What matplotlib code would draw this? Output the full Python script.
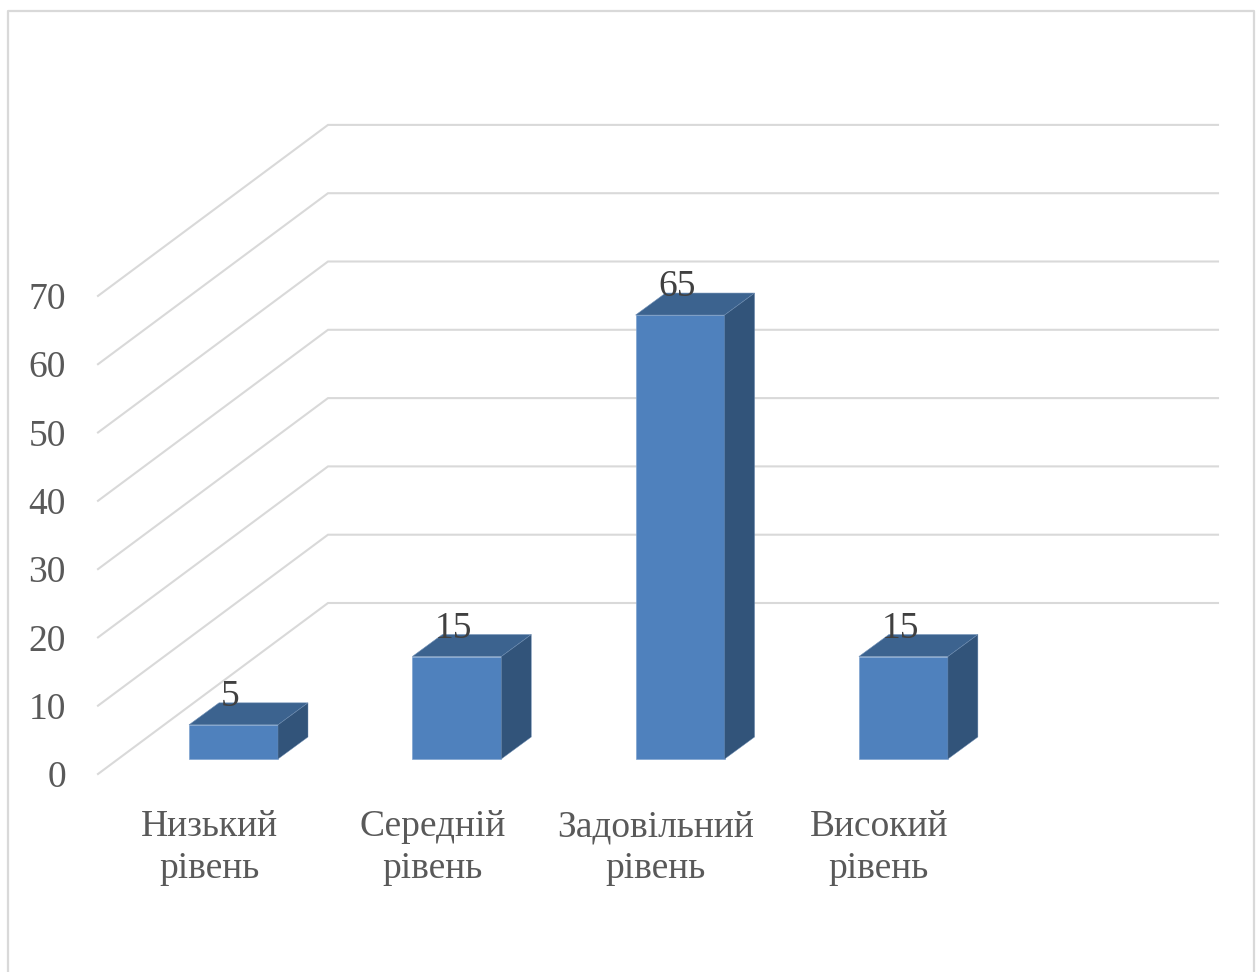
import matplotlib
matplotlib.use('Agg')
import matplotlib.pyplot as plt
from matplotlib.lines import Line2D
from matplotlib.patches import Polygon
import numpy as np

categories = ['Низький\nрівень', 'Середній\nрівень', 'Задовільний\nрівень', 'Високий\nрівень']
values = [5, 15, 65, 15]
y_ticks = [0, 10, 20, 30, 40, 50, 60, 70]

W, H = 1259, 972

# scale of the drawing: pixels per category and per unit of value
PX_CAT = 223.3
PX_VAL = 6.83
X0 = 233.5
Y0 = 774

WALL_LEFT = (98 - X0) / PX_CAT
WALL_RIGHT = (1218 - X0) / PX_CAT
WALL_DX = 230 / PX_CAT
WALL_DY = 171 / PX_VAL
BAR_W = 89 / PX_CAT
BAR_DX = 30 / PX_CAT
BAR_DY = 22 / PX_VAL
BAR_FLOOR = 15 / PX_VAL

GRID = '#d9d9d9'
FRONT = '#4f81bd'
TOP = '#3c638f'
SIDE = '#32547a'

plt.rcParams['font.family'] = ['Liberation Serif', 'DejaVu Serif']

fig = plt.figure(figsize=(W / 100, H / 100), dpi=100)
ax = fig.add_axes([0, 0, 1, 1])
ax.set_xlim(-X0 / PX_CAT, (W - X0) / PX_CAT)
ax.set_ylim((Y0 - H) / PX_VAL, Y0 / PX_VAL)
ax.axis('off')

# chart frame, left open along the bottom edge
fig.add_artist(Line2D([8 / W, 8 / W, 1254 / W, 1254 / W],
                      [0, 1 - 11 / H, 1 - 11 / H, 0],
                      color=GRID, lw=1.6, transform=fig.transFigure))

# side wall and back wall grid lines
for t in y_ticks:
    ax.plot([WALL_LEFT, WALL_LEFT + WALL_DX, WALL_RIGHT],
            [t, t + WALL_DY, t + WALL_DY], color=GRID, lw=1.5, zorder=1,
            solid_joinstyle='miter')
    ax.annotate(str(t), ((66 - X0) / PX_CAT, t), xytext=(0, -4), textcoords='offset pixels',
                ha='right', va='center', fontsize=27, color='#595959')

# 3d bars: front face, then top and side
x = np.arange(len(values))
ax.bar(x, values, width=BAR_W, bottom=BAR_FLOOR, color=FRONT, zorder=3,
       edgecolor='#7fa3d0', linewidth=0.5)
for xi, v in zip(x, values):
    l, r = xi - BAR_W / 2, xi + BAR_W / 2
    top = v + BAR_FLOOR
    ax.add_patch(Polygon([(l, top), (r, top), (r + BAR_DX, top + BAR_DY), (l + BAR_DX, top + BAR_DY)],
                         facecolor=TOP, edgecolor='#6f8fb5', lw=0.4, zorder=3))
    ax.add_patch(Polygon([(r, BAR_FLOOR), (r + BAR_DX, BAR_FLOOR + BAR_DY), (r + BAR_DX, top + BAR_DY), (r, top)],
                         facecolor=SIDE, edgecolor='#6f8fb5', lw=0.3, zorder=3))
    ax.annotate(str(v), (xi, top), xytext=(-3, 28), textcoords='offset pixels',
                ha='center', va='center', fontsize=27, color='#404040', zorder=4)

# category labels sit left of the bars, under the floor
for xi, name in zip(x, categories):
    ax.text(xi - 24.5 / PX_CAT, (Y0 - 848) / PX_VAL, name, ha='center', va='center',
            fontsize=27, color='#595959', linespacing=1.3)

fig.savefig('out.png', dpi=100)
